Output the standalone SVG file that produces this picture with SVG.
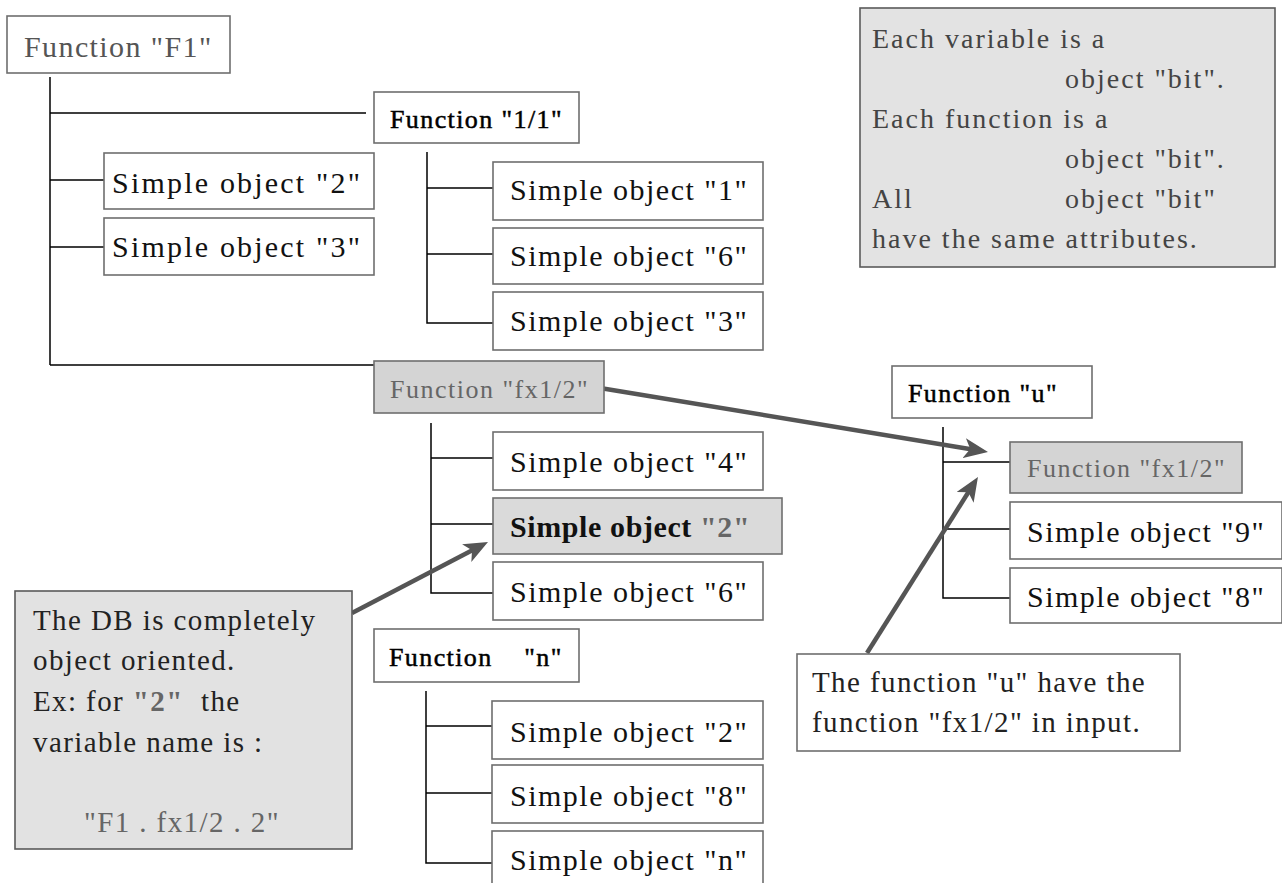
<svg xmlns="http://www.w3.org/2000/svg" width="1282" height="883" viewBox="0 0 1282 883">
<style>
.box{fill:#ffffff;stroke:#6e6e6e;stroke-width:1.6;}
.gbox{fill:#d4d4d4;stroke:#6e6e6e;stroke-width:1.6;}
.note{fill:#e2e2e2;stroke:#5a5a5a;stroke-width:1.6;}
.f1{font-family:'Liberation Serif';font-size:30px;fill:#555;letter-spacing:1.4px;}
.so{font-family:'Liberation Serif';font-size:30px;fill:#111;letter-spacing:1.5px;}
.so2{font-family:'Liberation Serif';font-size:30px;fill:#111;letter-spacing:2.2px;}
.fn{font-family:'Liberation Serif';font-size:26px;fill:#000;stroke:#000;stroke-width:0.5px;letter-spacing:1.4px;}
.fg{font-family:'Liberation Serif';font-size:26px;fill:#666;letter-spacing:1.5px;}
.nt{font-family:'Liberation Serif';font-size:29px;fill:#222;letter-spacing:1.4px;}
.tr{font-family:'Liberation Serif';font-size:28px;fill:#444;letter-spacing:2px;}
.ln{stroke:#000;stroke-width:1.5;fill:none;}
.arr{stroke:#555;stroke-width:4.5;fill:none;marker-end:url(#ah);}
</style>
<defs>
<marker id="ah" viewBox="0 0 24 20" refX="16" refY="10" markerWidth="24" markerHeight="20" markerUnits="userSpaceOnUse" orient="auto">
<path d="M0,0 L24,10 L0,20 L6,10 z" fill="#555"/>
</marker>
</defs>
<rect width="1282" height="883" fill="#ffffff"/>

<g id="connectors">
<path class="ln" d="M50,77 V365 M50,113 H366 M50,180 H104 M50,247 H104 M50,365 H374"/>
<path class="ln" d="M427,152 V323 H493 M427,188 H493 M427,254 H493"/>
<path class="ln" d="M431,423 V593 H493 M431,458 H493 M431,524 H493"/>
<path class="ln" d="M426,691 V863 H492 M426,726 H492 M426,793 H492"/>
<path class="ln" d="M943,427 V598 H1010 M943,462 H1010 M943,529 H1010"/>
<path class="arr" d="M352,613 L480.9,545.7"/>
<path class="arr" d="M600,388 L980.1,450.7"/>
<path class="arr" d="M867,653 L973.7,483.8"/>
</g>

<g id="fF1"><rect class="box" x="7" y="16" width="223" height="57"/><text class="f1" x="24" y="57">Function "F1"</text></g>
<g id="so2a"><rect class="box" x="104" y="153" width="270" height="56"/><text class="so2" x="112" y="193">Simple object "2"</text></g>
<g id="so3a"><rect class="box" x="104" y="218" width="270" height="57"/><text class="so2" x="112" y="257">Simple object "3"</text></g>

<g id="f11"><rect class="box" x="374" y="92" width="205" height="51"/><text class="fn" x="390" y="128">Function "1/1"</text></g>
<g id="so1"><rect class="box" x="493" y="162" width="270" height="58"/><text class="so" x="510" y="200">Simple object "1"</text></g>
<g id="so6a"><rect class="box" x="493" y="228" width="270" height="56"/><text class="so" x="510" y="266">Simple object "6"</text></g>
<g id="so3b"><rect class="box" x="493" y="292" width="270" height="58"/><text class="so" x="510" y="331">Simple object "3"</text></g>

<g id="ffx"><rect class="gbox" x="374" y="361" width="230" height="52"/><text class="fg" x="390" y="398">Function "fx1/2"</text></g>
<g id="so4"><rect class="box" x="493" y="432" width="270" height="58"/><text class="so" x="510" y="472">Simple object "4"</text></g>
<g id="so2b"><rect class="box" x="493" y="498" width="289" height="56" style="fill:#dadada"/><text class="so" x="510" y="537" font-weight="bold" style="letter-spacing:0.6px">Simple object <tspan fill="#666">"2"</tspan></text></g>
<g id="so6b"><rect class="box" x="493" y="562" width="270" height="58"/><text class="so" x="510" y="602">Simple object "6"</text></g>

<g id="fn"><rect class="box" x="374" y="629" width="205" height="53"/><text class="fn" x="389" y="666" xml:space="preserve">Function    "n"</text></g>
<g id="so2c"><rect class="box" x="492" y="701" width="271" height="58"/><text class="so" x="510" y="742">Simple object "2"</text></g>
<g id="so8a"><rect class="box" x="492" y="765" width="271" height="58"/><text class="so" x="510" y="806">Simple object "8"</text></g>
<g id="son"><rect class="box" x="492" y="831" width="271" height="60"/><text class="so" x="510" y="870">Simple object "n"</text></g>

<g id="fu"><rect class="box" x="892" y="366" width="200" height="52"/><text class="fn" x="908" y="402">Function "u"</text></g>
<g id="ffx2"><rect class="gbox" x="1010" y="442" width="232" height="51"/><text class="fg" x="1027" y="477">Function "fx1/2"</text></g>
<g id="so9"><rect class="box" x="1010" y="502" width="272" height="57"/><text class="so" x="1027" y="542">Simple object "9"</text></g>
<g id="so8b"><rect class="box" x="1010" y="568" width="272" height="55"/><text class="so" x="1027" y="607">Simple object "8"</text></g>

<g id="noteTop"><rect class="note" x="860" y="8" width="415" height="259" style="fill:#e3e3e3"/>
<text class="tr" x="872" y="48">Each variable is a</text>
<text class="tr" x="1065" y="88">object "bit".</text>
<text class="tr" x="872" y="128">Each function is a</text>
<text class="tr" x="1065" y="168">object "bit".</text>
<text class="tr" x="872" y="208">All</text>
<text class="tr" x="1065" y="208">object "bit"</text>
<text class="tr" x="872" y="248">have the same attributes.</text>
</g>

<g id="noteDB"><rect class="note" x="15" y="591" width="337" height="258"/>
<text class="nt" x="33" y="630">The DB is completely</text>
<text class="nt" x="33" y="670">object oriented.</text>
<text class="nt" x="33" y="711" xml:space="preserve">Ex: for <tspan fill="#666" font-weight="bold">"2"</tspan>  the</text>
<text class="nt" x="33" y="752">variable name is :</text>
<text class="nt" x="84" y="832" style="fill:#666">"F1 . fx1/2 . 2"</text>
</g>

<g id="noteU"><rect class="box" x="797" y="654" width="383" height="97"/>
<text class="nt" x="812" y="692">The function "u" have the</text>
<text class="nt" x="812" y="732">function "fx1/2" in input.</text>
</g>
</svg>
